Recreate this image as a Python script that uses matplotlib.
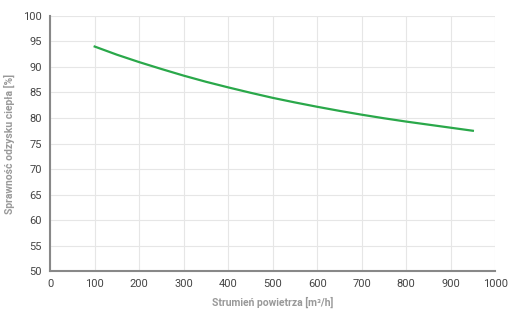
import matplotlib.pyplot as plt

# airflow [m3/h] and heat recovery efficiency [%]
flow = [100, 150, 200, 250, 300, 350, 400, 450, 500, 550, 600, 650, 700, 750, 800, 850, 900, 950]
efficiency = [94.0, 92.4, 90.95, 89.6, 88.3, 87.1, 86.0, 84.95, 83.95, 83.05, 82.2, 81.4, 80.65, 79.95, 79.3, 78.7, 78.1, 77.5]

x_ticks = list(range(0, 1001, 100))
y_ticks = list(range(50, 101, 5))

plt.rcParams['font.family'] = ['Roboto', 'DejaVu Sans']

fig = plt.figure(figsize=(5.12, 3.12), dpi=100)
ax = fig.add_axes([0.098, 0.131, 0.869, 0.818])

ax.plot(flow, efficiency, color='#2aa84a', linewidth=1.6)

ax.set_xlim(0, 1000)
ax.set_ylim(50, 100)
ax.set_xticks(x_ticks)
ax.set_yticks(y_ticks)
ax.tick_params(length=0, labelsize=8, colors='#444444', pad=6)

ax.grid(True, color='#e6e6e6', linewidth=0.8)
ax.set_axisbelow(True)

for side in ['top', 'right']:
    ax.spines[side].set_visible(False)
for side in ['left', 'bottom']:
    ax.spines[side].set_color('#888888')
    ax.spines[side].set_linewidth(1.5)

ax.set_xlabel('Strumień powietrza [m³/h]', fontsize=7.5, color='#999999', fontweight='bold', labelpad=5)
ax.set_ylabel('Sprawność odzysku ciepła [%]', fontsize=7.5, color='#999999', fontweight='bold', labelpad=6)

plt.savefig('out.png', dpi=100)
plt.close()
